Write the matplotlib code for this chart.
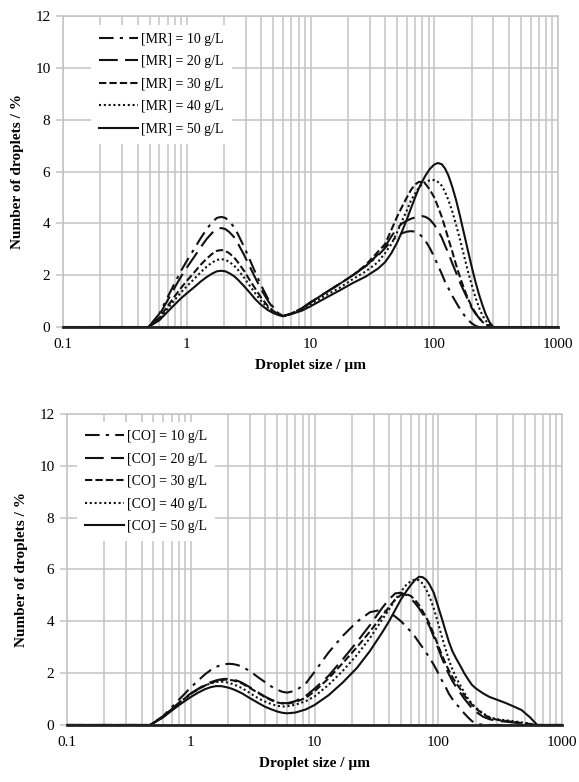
import matplotlib
matplotlib.use("Agg")
import matplotlib.pyplot as plt
from matplotlib.ticker import FixedLocator, NullFormatter

plt.rcParams['font.family'] = ['Liberation Serif', 'DejaVu Serif']

# ---- top panel: [MR] series (droplet size in um, number %) ----
x_mr = [0.1, 0.49, 0.6, 0.7, 0.8, 0.9, 1.0, 1.15, 1.3, 1.45, 1.6, 1.75, 1.9, 2.05, 2.2, 2.4, 2.6, 2.9,
        3.2, 3.6, 4.0, 4.5, 5.0, 5.5, 6.0,
        7.0, 8.5, 10, 13, 17, 22, 28, 35, 40, 45, 50, 55, 60, 65, 70, 75, 80, 85, 92, 100, 107, 115,
        122, 130, 140, 150, 162, 175, 187, 200, 215, 230, 245, 260, 280, 300, 1000]
mr10 = [0, 0, .51, 1.15, 1.70, 2.17, 2.55, 3.02, 3.44, 3.78, 4.04, 4.21, 4.25, 4.21, 4.08, 3.87, 3.57,
        3.10, 2.64, 2.08, 1.6, 1.12, 0.76, 0.53, 0.42,
        .52, .72, .95, 1.3, 1.65, 2.0, 2.35, 2.75, 3.05, 3.3, 3.5, 3.62, 3.68, 3.7, 3.68, 3.6, 3.48, 3.32,
        3.05, 2.7, 2.38, 2.05, 1.75, 1.5, 1.2, 0.95, 0.68, 0.45, 0.28, 0.15, 0.05, 0, 0, 0, 0, 0, 0]
mr20 = [0, 0, .46, 1.03, 1.53, 1.95, 2.29, 2.71, 3.09, 3.40, 3.63, 3.78, 3.82, 3.78, 3.67, 3.48, 3.21,
        2.79, 2.37, 1.87, 1.45, 1.03, 0.72, 0.52, 0.42,
        .52, .72, .95, 1.3, 1.65, 2.0, 2.35, 2.8, 3.1, 3.5, 3.8, 4.0, 4.1, 4.18, 4.23, 4.27, 4.28, 4.25,
        4.15, 3.95, 3.72, 3.45, 3.15, 2.85, 2.45, 2.1, 1.7, 1.35, 1.05, 0.75, 0.52, 0.35, 0.2, 0.1, 0.03,
        0, 0]
mr30 = [0, 0, .36, .80, 1.19, 1.51, 1.78, 2.11, 2.41, 2.64, 2.82, 2.94, 2.97, 2.94, 2.85, 2.70, 2.49,
        2.17, 1.84, 1.46, 1.13, 0.82, 0.62, 0.49, 0.42,
        .52, .72, .95, 1.3, 1.65, 2.0, 2.4, 2.9, 3.2, 3.75, 4.25, 4.65, 5.0, 5.3, 5.5, 5.6, 5.6, 5.52,
        5.3, 5.0, 4.65, 4.25, 3.85, 3.4, 2.9, 2.4, 1.9, 1.45, 1.1, 0.8, 0.55, 0.35, 0.2, 0.1, 0.03, 0, 0]
mr40 = [0, 0, .31, .71, 1.05, 1.34, 1.57, 1.86, 2.12, 2.33, 2.49, 2.59, 2.62, 2.59, 2.52, 2.38, 2.2,
        1.91, 1.62, 1.28, 1.0, 0.76, 0.58, 0.48, 0.42,
        .5, .68, .88, 1.2, 1.5, 1.85, 2.15, 2.5, 2.85, 3.2, 3.65, 4.1, 4.5, 4.9, 5.15, 5.38, 5.52, 5.6,
        5.66, 5.67, 5.6, 5.45, 5.22, 4.9, 4.45, 3.95, 3.35, 2.7, 2.15, 1.65, 1.15, 0.75, 0.45, 0.25, 0.08,
        0, 0]
mr50 = [0, 0, .26, .59, .87, 1.11, 1.30, 1.54, 1.76, 1.93, 2.06, 2.15, 2.17, 2.15, 2.08, 1.97, 1.82,
        1.58, 1.35, 1.06, 0.85, 0.66, 0.54, 0.46, 0.42,
        .5, .63, .8, 1.1, 1.4, 1.7, 1.95, 2.25, 2.5, 2.85, 3.25, 3.7, 4.15, 4.6, 5.0, 5.35, 5.62, 5.85,
        6.1, 6.27, 6.33, 6.28, 6.12, 5.85, 5.4, 4.9, 4.25, 3.55, 2.95, 2.35, 1.75, 1.25, 0.85, 0.5, 0.18,
        0, 0]

# ---- bottom panel: [CO] series ----
x_co = [0.1, 0.47, 0.6, 0.7, 0.8, 0.9, 1.0, 1.15, 1.3, 1.45, 1.6, 1.75, 1.9, 2.05, 2.2, 2.4, 2.6, 2.9,
        3.2, 3.6, 4.0, 4.5, 5.0, 5.5, 6.0,
        7.0, 8.5, 10, 13, 17, 22, 28, 35, 40, 45, 50, 55, 60, 65, 70, 75, 80, 85, 92, 100, 107, 115,
        122, 130, 140, 150, 162, 175, 187, 200,
        230, 260, 300, 350, 400, 470, 550, 630, 1000]
co10 = [0, 0, .35, .68, .97, 1.22, 1.45, 1.72, 1.95, 2.12, 2.24, 2.31, 2.35, 2.36, 2.35, 2.31, 2.25,
        2.12, 1.98, 1.8, 1.65, 1.48, 1.36, 1.28, 1.25,
        1.32, 1.6, 2.05, 2.8, 3.45, 3.98, 4.35, 4.45, 4.35, 4.18, 4.0, 3.8, 3.6, 3.4, 3.18, 2.98, 2.78,
        2.6, 2.32, 2.0, 1.72, 1.45, 1.2, 1.0, 0.8, 0.65, 0.45, 0.28, 0.15, 0.07,
        0, 0, 0, 0, 0, 0, 0, 0, 0]
co20 = [0, 0, .32, .6, .85, 1.05, 1.22, 1.4, 1.55, 1.65, 1.72, 1.76, 1.78, 1.77, 1.75, 1.7, 1.63,
        1.5, 1.38, 1.22, 1.09, 0.97, 0.89, 0.85, 0.84,
        .92, 1.12, 1.4, 1.9, 2.55, 3.2, 3.85, 4.5, 4.85, 5.08, 5.1, 5.02, 4.88, 4.7, 4.5, 4.28, 4.05,
        3.8, 3.4, 2.95, 2.58, 2.22, 1.95, 1.7, 1.45, 1.25, 1.02, 0.82, 0.65, 0.52,
        0.32, 0.22, 0.16, 0.13, 0.1, 0.06, 0.03, 0, 0]
co30 = [0, 0, .32, .6, .84, 1.03, 1.2, 1.38, 1.52, 1.62, 1.69, 1.73, 1.75, 1.74, 1.72, 1.67, 1.6,
        1.47, 1.35, 1.2, 1.07, 0.95, 0.87, 0.83, 0.82,
        .88, 1.05, 1.3, 1.8, 2.4, 3.0, 3.6, 4.2, 4.55, 4.85, 5.02, 5.05, 4.98, 4.82, 4.62, 4.38, 4.15,
        3.9, 3.5, 3.05, 2.7, 2.35, 2.1, 1.85, 1.6, 1.4, 1.15, 0.95, 0.78, 0.65,
        0.42, 0.28, 0.2, 0.16, 0.12, 0.08, 0.04, 0, 0]
co40 = [0, 0, .32, .6, .84, 1.03, 1.2, 1.38, 1.52, 1.61, 1.66, 1.67, 1.66, 1.62, 1.57, 1.5, 1.42,
        1.28, 1.15, 1.0, 0.9, 0.8, 0.74, 0.71, 0.72,
        .78, .92, 1.1, 1.55, 2.1, 2.7, 3.35, 4.05, 4.45, 4.85, 5.15, 5.4, 5.55, 5.62, 5.58, 5.45, 5.22,
        4.95, 4.5, 3.9, 3.4, 2.9, 2.5, 2.15, 1.8, 1.55, 1.25, 1.0, 0.82, 0.68,
        0.45, 0.3, 0.22, 0.18, 0.15, 0.1, 0.05, 0, 0]
co50 = [0, 0, .3, .55, .76, .93, 1.08, 1.25, 1.38, 1.46, 1.5, 1.5, 1.47, 1.43, 1.38, 1.3, 1.22,
        1.08, 0.96, 0.82, 0.7, 0.6, 0.52, 0.47, 0.45,
        .48, .6, .77, 1.15, 1.65, 2.2, 2.85, 3.55, 4.0, 4.45, 4.85, 5.15, 5.4, 5.6, 5.72, 5.7, 5.6,
        5.42, 5.1, 4.55, 4.1, 3.6, 3.2, 2.85, 2.55, 2.3, 2.0, 1.75, 1.55, 1.42,
        1.22, 1.08, 0.97, 0.85, 0.73, 0.58, 0.3, 0, 0]

concs = ['10', '20', '30', '40', '50']
styles = [(0, (7, 3, 1.5, 3)), (0, (9, 3.5)), (0, (3.5, 1.5)), (0, (1, 1.3)), '-']

fig = plt.figure(figsize=(5.79, 7.82), dpi=100)
ax1 = fig.add_axes([0.1088, 0.5818, 0.855, 0.3977])
ax2 = fig.add_axes([0.1157, 0.0729, 0.855, 0.3977])

grid_c = '#c4c4c4'
minor = [m * 10.0 ** e for e in range(-1, 3) for m in range(2, 10)]

panels = [(ax1, x_mr, [mr10, mr20, mr30, mr40, mr50], 'MR', (0.042, 0.995)),
          (ax2, x_co, [co10, co20, co30, co40, co50], 'CO', (0.006, 0.997))]
for ax, xs, series, tag, anchor in panels:
    for ys, ls, c in zip(series, styles, concs):
        assert len(ys) == len(xs)
        ax.plot(xs, ys, color='#111111', lw=1.5, linestyle=ls, label='[%s] = %s g/L' % (tag, c),
                zorder=3)
    ax.set_xscale('log')
    ax.set_xlim(0.1, 1000)
    ax.set_ylim(0, 12)
    ax.xaxis.set_major_locator(FixedLocator([0.1, 1, 10, 100, 1000]))
    ax.xaxis.set_minor_locator(FixedLocator(minor))
    ax.xaxis.set_minor_formatter(NullFormatter())
    ax.set_xticklabels(['0.1', '1', '10', '100', '1000'])
    ax.set_yticks([0, 2, 4, 6, 8, 10, 12])
    ax.grid(True, which='both', axis='x', color=grid_c, lw=1.1, zorder=0)
    ax.grid(True, which='major', axis='y', color=grid_c, lw=1.1, zorder=0)
    for s in ['top', 'right', 'left']:
        ax.spines[s].set_color(grid_c)
        ax.spines[s].set_linewidth(1.1)
    ax.spines['bottom'].set_color('#222222')
    ax.spines['bottom'].set_linewidth(2)
    ax.spines['bottom'].set_zorder(4)
    ax.tick_params(axis='x', which='both', length=0, labelsize=11, pad=8)
    ax.tick_params(axis='y', length=5, color=grid_c, width=1.1, labelsize=11, pad=4)
    ax.set_xlabel('Droplet size / µm', fontsize=11, fontweight='bold', labelpad=6)
    ax.set_ylabel('Number of droplets / %', fontsize=11, fontweight='bold', labelpad=8)
    leg = ax.legend(loc='upper left', bbox_to_anchor=anchor, fontsize=10, handlelength=2.8,
                    handletextpad=0.2, labelspacing=0.68, borderpad=0.6, frameon=True,
                    fancybox=False, framealpha=1)
    leg.get_frame().set_edgecolor('none')
    leg.get_frame().set_facecolor('white')
    leg.set_zorder(5)

fig.savefig('out.png', dpi=100)
